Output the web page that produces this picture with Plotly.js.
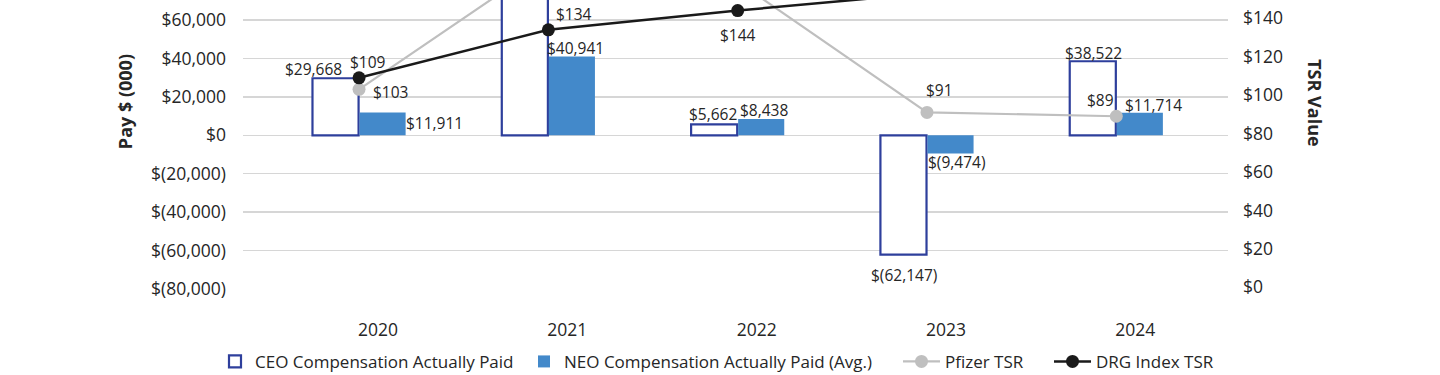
<!DOCTYPE html>
<html>
<head>
<meta charset="utf-8">
<script src="https://cdn.plot.ly/plotly-3.0.1.min.js"></script>
<style>
  html, body { margin: 0; padding: 0; background: #ffffff; }
  #chart { width: 1440px; height: 375px; }
</style>
</head>
<body>
<div id="chart"></div>
<script>
// ---- data ----
const years = ['2020', '2021', '2022', '2023', '2024'];
const ceoPay = [29668, 87000, 5662, -62147, 38522];   // 2021 value above visible area (estimated)
const neoPay = [11911, 40941, 8438, -9474, 11714];
const pfizerTSR = [103, 170, 159, 91, 89];            // 2021/2022 estimated from line slope
const drgTSR = [109, 134, 144, 153, 162];             // 2023/2024 estimated (above visible area)
const payTicks = [-80000, -60000, -40000, -20000, 0, 20000, 40000, 60000];
const tsrTicks = [0, 20, 40, 60, 80, 100, 120, 140];

// ---- styles / positions ----
const FONT = '"Open Sans", "Noto Sans", sans-serif';
const TXT = '#262626';
const payRange = [-80000, 70400];
const tsrRange = [-0.9, 149.5];
const ceoShift = [[-46, 9], [0, 10], [-25, 10], [-23, -20], [-23, 8]];
const neoShift = [[75, -10.6], [27.5, 8.3], [26, 9], [30, -9], [37.5, 7.8]];
const pfzShift = [[31, -2.5], [0, 16], [0, 16], [12.5, 22], [-16, 16]];
const drgShift = [[8.5, 16], [25.5, 16], [0, -24.5], [0, 16], [0, 16]];
const legendLeft = [215, 524, 898, 1049];   // px, left edge of each legend entry
const legendItemWidth = [30, 30, 37, 37];

function fmtPay(v) {
  const s = Math.abs(v).toLocaleString('en-US');
  return v < 0 ? '$(' + s + ')' : '$' + s;
}
function fmtTSR(v) { return '$' + v; }

const traces = [
  {
    type: 'bar', name: 'CEO Compensation Actually Paid', legend: 'legend',
    x: years, y: ceoPay, yaxis: 'y',
    marker: { color: '#ffffff', line: { color: '#2E3F9C', width: 2.2 } },
    hoverinfo: 'skip'
  },
  {
    type: 'bar', name: 'NEO Compensation Actually Paid (Avg.)', legend: 'legend2',
    x: years, y: neoPay, yaxis: 'y',
    marker: { color: '#4389CA', line: { width: 0 } },
    hoverinfo: 'skip'
  },
  {
    type: 'scatter', mode: 'lines+markers', name: 'Pfizer TSR', legend: 'legend3',
    x: years, y: pfizerTSR, yaxis: 'y2',
    line: { color: '#BFBFBF', width: 2.2 },
    marker: { color: '#BFBFBF', size: 13 },
    hoverinfo: 'skip'
  },
  {
    type: 'scatter', mode: 'lines+markers', name: 'DRG Index TSR', legend: 'legend4',
    x: years, y: drgTSR, yaxis: 'y2',
    line: { color: '#1A1A1A', width: 2.5 },
    marker: { color: '#1A1A1A', size: 13 },
    hoverinfo: 'skip'
  }
];

const annotations = [];
function addLabels(vals, shifts, yref, range, fmt) {
  vals.forEach((v, i) => {
    if (v < range[0] || v > range[1]) return;
    annotations.push({
      x: i, y: v, xref: 'x', yref: yref,   // x = category index of years[i]
      text: fmt(v), showarrow: false,
      xanchor: 'center', yanchor: 'middle',
      xshift: shifts[i][0], yshift: shifts[i][1],
      font: { family: FONT, size: 15.5, color: TXT }
    });
  });
}
addLabels(ceoPay, ceoShift, 'y', payRange, fmtPay);
addLabels(neoPay, neoShift, 'y', payRange, fmtPay);
addLabels(pfizerTSR, pfzShift, 'y2', tsrRange, fmtTSR);
addLabels(drgTSR, drgShift, 'y2', tsrRange, fmtTSR);

annotations.push({
  xref: 'paper', yref: 'paper', x: -0.1198, y: 0.65,
  text: '<b>Pay $ (000)</b>', showarrow: false, textangle: -90,
  xanchor: 'center', yanchor: 'middle',
  font: { family: FONT, size: 18, color: TXT }
});
annotations.push({
  xref: 'paper', yref: 'paper', x: 1.0883, y: 0.643,
  text: '<b>TSR Value</b>', showarrow: false, textangle: 90,
  xanchor: 'center', yanchor: 'middle',
  font: { family: FONT, size: 18, color: TXT }
});

function legendAt(i) {
  return {
    orientation: 'h', xref: 'container', x: legendLeft[i] / 1440, xanchor: 'left',
    yref: 'container', y: 0.035, yanchor: 'middle',
    font: { family: FONT, size: 17, color: TXT }, itemwidth: legendItemWidth[i],
    bgcolor: 'rgba(0,0,0,0)'
  };
}

const layout = {
  width: 1440, height: 375,
  margin: { l: 243, r: 212, t: 0, b: 86, pad: 0, autoexpand: false },
  paper_bgcolor: '#ffffff', plot_bgcolor: '#ffffff',
  font: { family: FONT, color: TXT },
  barmode: 'group', bargap: 0.503, bargroupgap: 0.02,
  showlegend: true,
  legend: legendAt(0), legend2: legendAt(1), legend3: legendAt(2), legend4: legendAt(3),
  xaxis: {
    type: 'category', range: [-0.613, 4.59],
    showgrid: false, showline: false, zeroline: false, ticks: '',
    ticklabelshift: 19, ticklabelstandoff: 28,
    tickfont: { family: FONT, size: 17.5, color: TXT }, fixedrange: true
  },
  yaxis: {
    range: payRange, tickvals: payTicks, ticktext: payTicks.map(fmtPay),
    showgrid: true, gridcolor: '#D6D6D6', gridwidth: 1.4,
    zeroline: false, showline: false, ticks: '', ticklabelstandoff: 16,
    tickfont: { family: FONT, size: 17.5, color: TXT }, fixedrange: true
  },
  yaxis2: {
    overlaying: 'y', side: 'right',
    range: tsrRange, tickvals: tsrTicks, ticktext: tsrTicks.map(fmtTSR),
    showgrid: false, zeroline: false, showline: false, ticks: '', ticklabelstandoff: 14,
    tickfont: { family: FONT, size: 17.5, color: TXT }, fixedrange: true
  },
  annotations: annotations
};

Plotly.newPlot('chart', traces, layout, { staticPlot: true, displayModeBar: false });
</script>
</body>
</html>
